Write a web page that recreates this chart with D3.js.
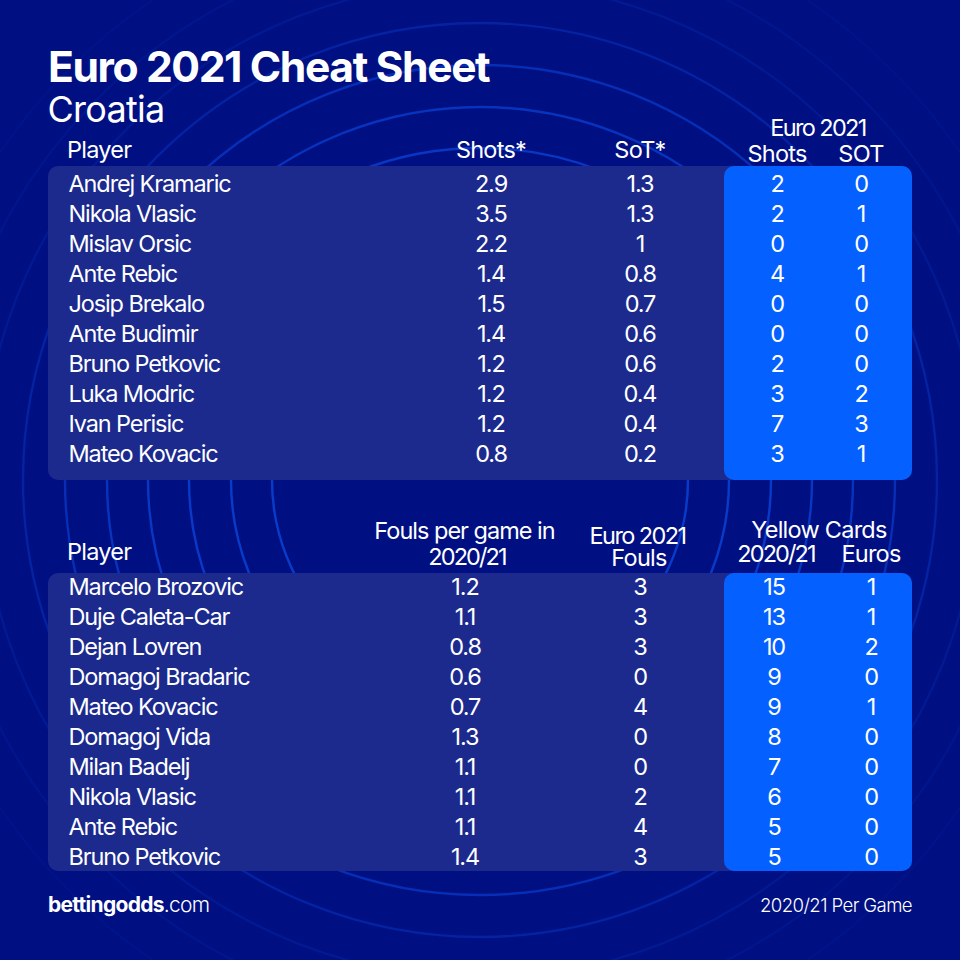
<!DOCTYPE html>
<html><head><meta charset="utf-8">
<script src="https://cdn.jsdelivr.net/npm/d3@7"></script>
<style>html,body{margin:0;padding:0;background:#000f82}svg{display:block}text{font-family:Inter,sans-serif;fill:#fff}</style>
</head><body><svg id="c" width="960" height="960"></svg>
<script>
const players1=["Andrej Kramaric","Nikola Vlasic","Mislav Orsic","Ante Rebic","Josip Brekalo","Ante Budimir","Bruno Petkovic","Luka Modric","Ivan Perisic","Mateo Kovacic"];
const shots=["2.9","3.5","2.2","1.4","1.5","1.4","1.2","1.2","1.2","0.8"];
const sot=["1.3","1.3","1","0.8","0.7","0.6","0.6","0.4","0.4","0.2"];
const euroShots=[2,2,0,4,0,0,2,3,7,3];
const euroSot=[0,1,0,1,0,0,0,2,3,1];
const players2=["Marcelo Brozovic","Duje Caleta-Car","Dejan Lovren","Domagoj Bradaric","Mateo Kovacic","Domagoj Vida","Milan Badelj","Nikola Vlasic","Ante Rebic","Bruno Petkovic"];
const fouls=["1.2","1.1","0.8","0.6","0.7","1.3","1.1","1.1","1.1","1.4"];
const euroFouls=[3,3,3,0,4,0,0,2,4,3];
const yellow=[15,13,10,9,9,8,7,6,5,5];
const yellowEuros=[1,1,2,0,1,0,0,0,0,0];
const ringRadii=[208,249,291,332,373,415,457,498,540,581];
const ringOpacity=[0.95,0.95,0.9,0.85,0.78,0.68,0.42,0.22,0.13,0.09];

const BG="#000f82",PANEL="#1c2a8e",BLUE="#0460fe";
const FS=23.5,LS=-0.75,NAME_LS=-1.12,VAL_LS=-1.1;
const svg=d3.select("#c");
svg.append("rect").attr("width",960).attr("height",960).attr("fill",BG);
svg.append("g").selectAll("circle").data(ringRadii).join("circle")
  .attr("cx",480).attr("cy",480).attr("r",d=>d).attr("fill","none")
  .attr("stroke","#0a3ecf").attr("stroke-width",2.4)
  .attr("stroke-opacity",(d,i)=>ringOpacity[i]);

function txt(x,y,s,o={}){
  return svg.append("text").attr("x",x).attr("y",y).text(s)
    .attr("text-anchor",o.a||"middle").attr("dominant-baseline","alphabetic")
    .attr("font-size",o.fs||FS).attr("font-weight",o.w||400)
    .attr("letter-spacing",o.ls===undefined?LS:o.ls);
}
function table(top,bottom,first,players,cols){
  svg.append("rect").attr("x",48).attr("y",top).attr("width",864).attr("height",bottom-top).attr("rx",10).attr("fill",PANEL);
  svg.append("rect").attr("x",724).attr("y",top).attr("width",188).attr("height",bottom-top).attr("rx",10).attr("fill",BLUE);
  const y=d3.scalePoint().domain(d3.range(players.length)).range([first,first+270]);
  svg.append("g").selectAll("text").data(players).join("text")
    .attr("x",68.5).attr("y",(d,i)=>y(i)+8).attr("font-size",FS).attr("letter-spacing",NAME_LS).text(d=>d);
  cols.forEach(c=>{
    svg.append("g").selectAll("text").data(c.v).join("text")
      .attr("x",c.x).attr("y",(d,i)=>y(i)+8).attr("text-anchor","middle")
      .attr("font-size",FS).attr("letter-spacing",VAL_LS).text(d=>d);
  });
}
txt(48,82,"Euro 2021 Cheat Sheet",{a:"start",fs:42.6,w:700,ls:-1.4});
txt(47.5,121.5,"Croatia",{a:"start",fs:36,ls:-0.75});

txt(67,158,"Player",{a:"start"});
txt(491,158,"Shots*");txt(640,158,"SoT*");
txt(818,136,"Euro 2021",{ls:-1.65});txt(777,162,"Shots");txt(861,162,"SOT");
table(166,480,184,players1,[{x:491,v:shots},{x:640,v:sot},{x:777,v:euroShots},{x:861,v:euroSot}]);

txt(67,560,"Player",{a:"start"});
txt(464.5,539,"Fouls per game in",{ls:-1});txt(467,565,"2020/21",{ls:-1.9});
txt(637.5,544,"Euro 2021",{ls:-1.6});txt(639,566,"Fouls");
txt(819,538,"Yellow Cards");txt(776,562,"2020/21",{ls:-1.9});txt(871,562,"Euros");
table(573,871,587,players2,[{x:465,v:fouls},{x:640,v:euroFouls},{x:774,v:yellow},{x:871,v:yellowEuros}]);

const brand=svg.append("text").attr("x",48).attr("y",912).attr("font-size",21).attr("letter-spacing",-0.7);
brand.append("tspan").attr("font-weight",700).text("bettingodds");
brand.append("tspan").attr("font-weight",300).text(".com");
svg.append("text").attr("x",912).attr("y",912).attr("text-anchor","end").attr("font-size",18.6).attr("font-weight",300).attr("letter-spacing",-0.6).text("2020/21 Per Game");
</script></body></html>
